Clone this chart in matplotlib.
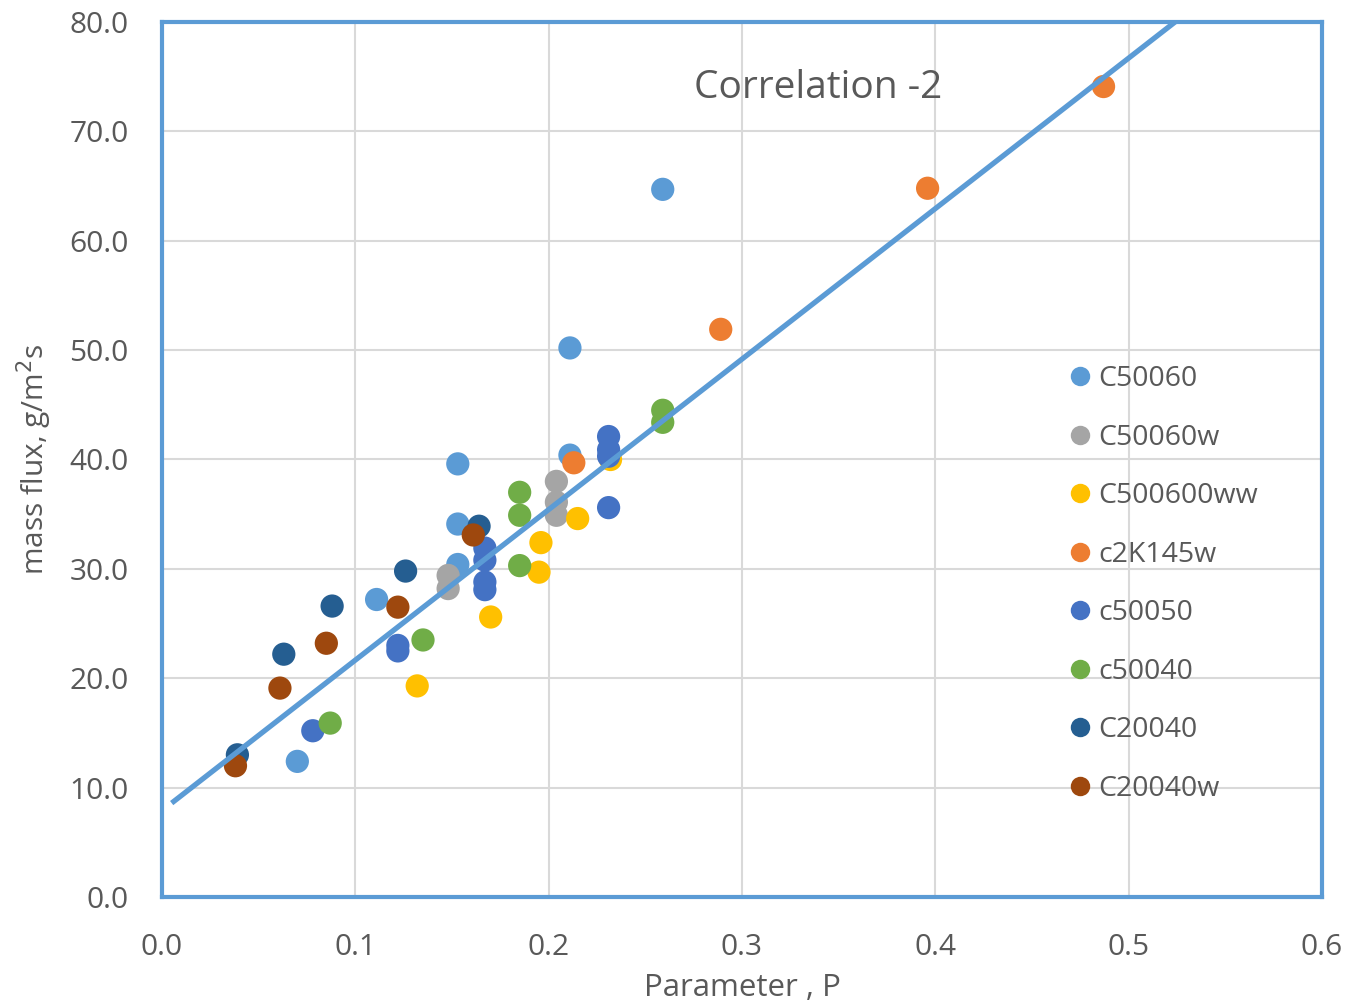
import matplotlib
matplotlib.use("Agg")
import matplotlib.pyplot as plt
from matplotlib.lines import Line2D
import numpy as np

plt.rcParams['font.family'] = ['Open Sans', 'DejaVu Sans']

# ---- data ----
series_names = ["C50060", "C50060w", "C500600ww", "c2K145w", "c50050", "c50040", "C20040", "C20040w"]
series_colors = ["#5B9BD5", "#A5A5A5", "#FFC000", "#ED7D31", "#4472C4", "#70AD47", "#255E91", "#9E480E"]

c50060_x = [0.259, 0.211, 0.153, 0.153, 0.153, 0.111, 0.070, 0.211]
c50060_y = [64.7, 50.2, 39.6, 34.1, 30.4, 27.2, 12.4, 40.4]

c50060w_x = [0.148, 0.148, 0.204, 0.204, 0.204]
c50060w_y = [29.4, 28.2, 38.0, 36.1, 34.9]

c500600ww_x = [0.132, 0.170, 0.195, 0.196, 0.215, 0.232]
c500600ww_y = [19.3, 25.6, 29.7, 32.4, 34.6, 40.0]

c2k145w_x = [0.487, 0.396, 0.289, 0.213]
c2k145w_y = [74.1, 64.8, 51.9, 39.7]

c50050_x = [0.078, 0.122, 0.122, 0.167, 0.167, 0.167, 0.167, 0.231, 0.231, 0.231, 0.231]
c50050_y = [15.2, 23.0, 22.5, 31.9, 30.8, 28.8, 28.1, 42.1, 40.9, 40.3, 35.6]

c50040_x = [0.087, 0.135, 0.185, 0.185, 0.185, 0.259, 0.259]
c50040_y = [15.9, 23.5, 30.3, 34.9, 37.0, 44.5, 43.4]

c20040_x = [0.039, 0.063, 0.088, 0.126, 0.164]
c20040_y = [13.0, 22.2, 26.6, 29.8, 33.9]

c20040w_x = [0.038, 0.061, 0.085, 0.122, 0.161]
c20040w_y = [12.0, 19.1, 23.2, 26.5, 33.1]

all_x = [c50060_x, c50060w_x, c500600ww_x, c2k145w_x, c50050_x, c50040_x, c20040_x, c20040w_x]
all_y = [c50060_y, c50060w_y, c500600ww_y, c2k145w_y, c50050_y, c50040_y, c20040_y, c20040w_y]

# correlation line y = a + b*P
corr_intercept = 7.9
corr_slope = 137.6
corr_x = [0.005, 0.56]

x_ticks = [0.0, 0.1, 0.2, 0.3, 0.4, 0.5, 0.6]
y_ticks = [0, 10, 20, 30, 40, 50, 60, 70, 80]

# ---- figure ----
fig = plt.figure(figsize=(13.5, 10.05), dpi=100)
ax = fig.add_axes([162/1350, 1-897/1005, (1322-162)/1350, (897-22)/1005])

for xs, ys, c in zip(all_x, all_y, series_colors):
    ax.scatter(xs, ys, s=280, color=c, edgecolors='none', zorder=3)

lx = np.array(corr_x)
ax.plot(lx, corr_intercept + corr_slope*lx, color="#5B9BD5", lw=3.8, zorder=4,
        solid_capstyle='butt')

ax.set_xlim(0, 0.6)
ax.set_ylim(0, 80)
ax.set_xticks(x_ticks)
ax.set_yticks(y_ticks)
ax.set_xticklabels([f"{v:.1f}" for v in x_ticks])
ax.set_yticklabels([f"{v:.1f}" for v in y_ticks])
ax.tick_params(axis='both', length=0, labelsize=21.5, labelcolor="#595959")
ax.tick_params(axis='x', pad=26)
ax.tick_params(axis='y', pad=24)
ax.grid(True, color="#D9D9D9", lw=1.5, zorder=0)
ax.set_axisbelow(True)
for sp in ax.spines.values():
    sp.set_color("#5B9BD5")
    sp.set_linewidth(3)

ax.set_xlabel("Parameter , P", fontsize=22.5, color="#595959")
ax.xaxis.set_label_coords(0.5, -(988-897)/875)
ax.xaxis.label.set_va('center')
ax.set_ylabel("mass flux, g/m$^2$s", fontsize=21.5, color="#595959")
ax.yaxis.set_label_coords(-(162-34)/1160, 0.5)
ax.yaxis.label.set_va('center')

ax.text((818-162)/1160, 1-(98-22)/875, "Correlation -2", fontsize=28, color="#595959",
        ha='center', va='baseline', transform=ax.transAxes)

handles = [Line2D([], [], marker='o', ls='none', markersize=14, color=c, markeredgewidth=0)
           for c in series_colors]
leg = ax.legend(handles, series_names, loc='upper left',
                bbox_to_anchor=((1054-162)/1160, 1-(354-22)/875),
                frameon=False, fontsize=20.5, labelspacing=1.07, handletextpad=0.15,
                handlelength=1.0, borderaxespad=0)
for t in leg.get_texts():
    t.set_color("#595959")

fig.savefig("out.png", dpi=100)
